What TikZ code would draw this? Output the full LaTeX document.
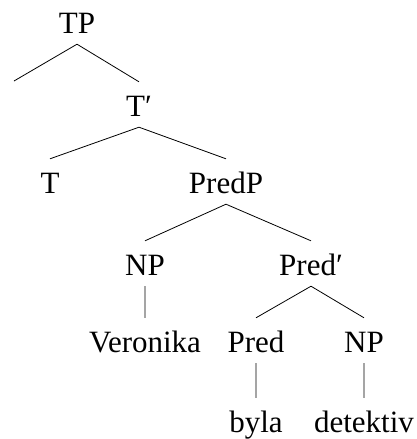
\documentclass[tikz,border=0pt]{standalone}
\usepackage{fontspec}
\setmainfont{Liberation Serif}
\usepackage{tikz}

\tikzset{
  cat/.style={anchor=base, inner xsep=0pt, inner ysep=11pt,
              text height=23pt, text depth=0pt,
              font=\fontsize{31}{37}\selectfont},
  branch/.style={line width=0.8pt}
}

\begin{document}
\begin{tikzpicture}[x=1pt, y=-1pt]
      \useasboundingbox (0, 0) rectangle (417, 439);
      \node [cat] (tp) at (77, 33) {TP};
      \coordinate (spec) at (14, 81);
      \node [cat] (tbar) at (139, 116) {T′};
      \node [cat] (t) at (50, 193) {T};
      \node [cat] (predp) at (226, 193) {PredP};
      \node [cat] (np1) at (145, 275) {NP};
      \node [cat] (predbar) at (311, 275) {Pred′};
      \node [cat] (veronika) at (145, 352) {Veronika};
      \node [cat] (pred) at (256, 352) {Pred};
      \node [cat] (np2) at (364, 352) {NP};
      \node [cat] (byla) at (256, 432) {byla};
      \node [cat] (detektiv) at (364, 432) {detektiv};
      \draw [branch] (tp.south) -- (spec)
                     (tp.south) -- (tbar.north)
                     (tbar.south) -- (t.north)
                     (tbar.south) -- (predp.north)
                     (predp.south) -- (np1.north)
                     (predp.south) -- (predbar.north)
                     (np1.south) -- (veronika.north)
                     (predbar.south) -- (pred.north)
                     (predbar.south) -- (np2.north)
                     (pred.south) -- (byla.north)
                     (np2.south) -- (detektiv.north);
\end{tikzpicture}
\end{document}
